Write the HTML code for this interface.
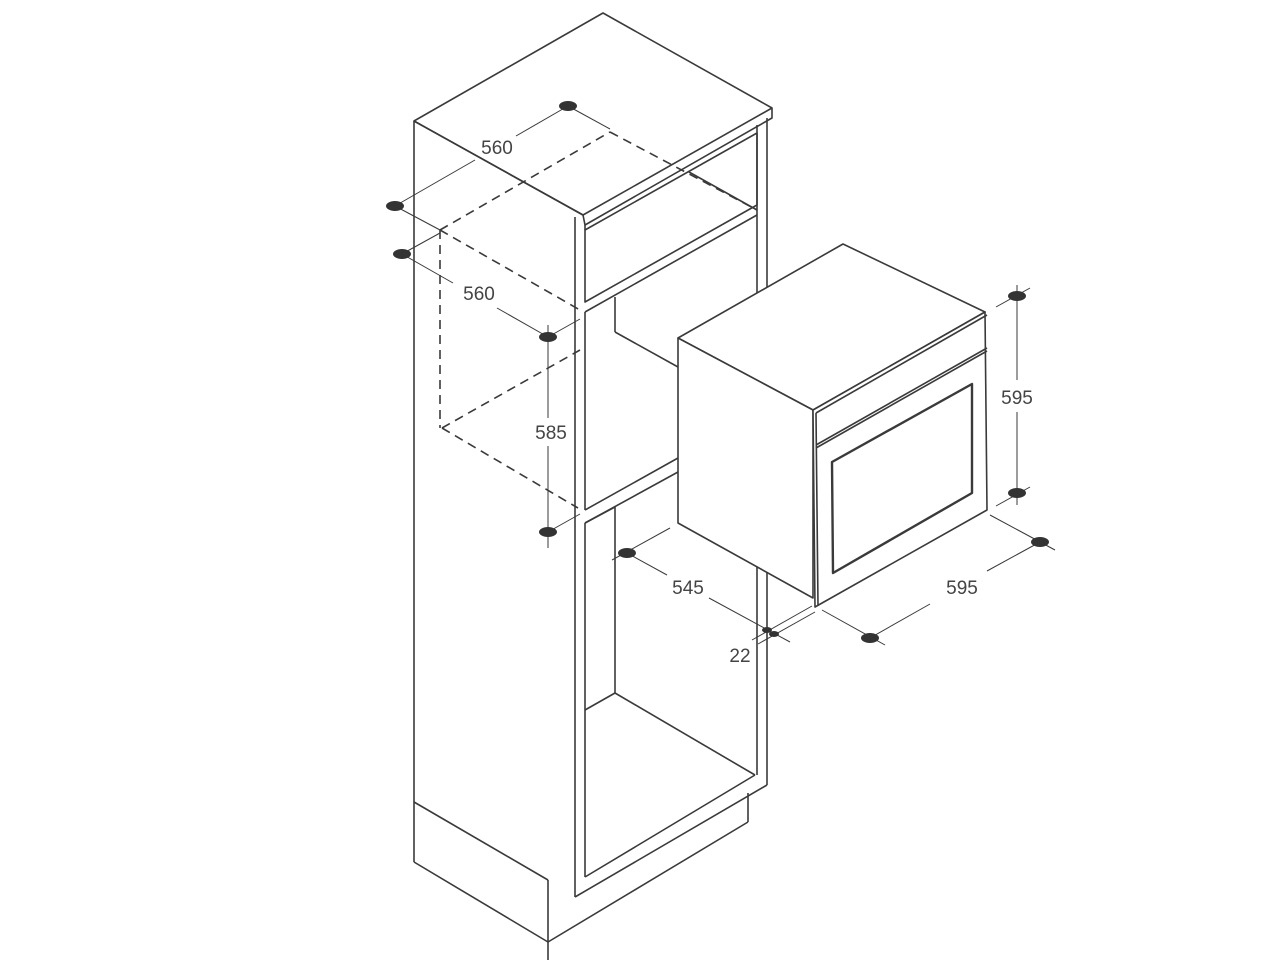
<!DOCTYPE html>
<html><head><meta charset="utf-8"><style>
html,body{margin:0;padding:0;background:#fff;}
svg{display:block}
text{font-family:"Liberation Sans",sans-serif;font-size:19px;fill:#444;text-anchor:middle;}
</style></head><body>
<svg width="1280" height="960" viewBox="0 0 1280 960" xmlns="http://www.w3.org/2000/svg">
<g fill="none" stroke="#3a3a3a" stroke-width="1.6" stroke-linejoin="round">
<!-- top slab -->
<polygon points="414,121 603,13 772,108 772,118 585,225 583,215" fill="#fff"/>
<line x1="414" y1="121" x2="583" y2="215"/>
<line x1="583" y1="215" x2="772" y2="108"/>
<!-- cabinet left side -->
<line x1="414" y1="121" x2="414" y2="862"/>
<line x1="414" y1="802" x2="548" y2="880"/>
<line x1="414" y1="862" x2="548" y2="942"/>
<line x1="548" y1="880" x2="548" y2="960"/>
<line x1="548" y1="942" x2="748" y2="822"/>
<line x1="748" y1="793" x2="748" y2="822"/>
<!-- front frame -->
<line x1="575" y1="217" x2="575" y2="897"/>
<line x1="575" y1="897" x2="767" y2="785"/>
<line x1="767" y1="118" x2="767" y2="785"/>
<line x1="757" y1="125" x2="757" y2="775"/>
<!-- top niche -->
<line x1="585" y1="225" x2="585" y2="230"/>
<line x1="689" y1="172" x2="757" y2="210"/>
<!-- drawer -->
<polygon points="585,230 757,133 757,205 585,302"/>
<!-- middle frame -->
<line x1="585" y1="312" x2="757" y2="215"/>
<line x1="585" y1="312" x2="585" y2="510"/>
<line x1="615" y1="297" x2="615" y2="332"/>
<line x1="615" y1="332" x2="678" y2="367"/>
<line x1="585" y1="510" x2="678" y2="458"/>
<line x1="585" y1="523" x2="678" y2="472"/>
<!-- lower opening -->
<line x1="585" y1="523" x2="585" y2="877"/>
<line x1="585" y1="523" x2="615" y2="507"/>
<line x1="615" y1="507" x2="615" y2="693"/>
<line x1="615" y1="693" x2="585" y2="710"/>
<line x1="615" y1="693" x2="755" y2="775"/>
<line x1="585" y1="877" x2="755" y2="775"/>
<!-- oven -->
<polygon points="678,338 843,244 985,312 813,410" fill="#fff"/>
<polygon points="678,338 813,410 813,598 678,523" fill="#fff"/>
<polygon points="813,410 985,312 987,510 815,607" fill="#fff"/>
<line x1="816" y1="413" x2="987" y2="315"/>
<line x1="816" y1="413" x2="818" y2="606"/>
<line x1="816" y1="445" x2="987" y2="348"/>
<line x1="816" y1="448" x2="987" y2="351"/>
<polygon points="832,462 972,384 972,493 833,573" stroke-width="2.4"/>
</g>
<!-- dashed -->
<g fill="none" stroke="#3a3a3a" stroke-width="1.6" stroke-dasharray="9,6">
<line x1="440" y1="230" x2="610" y2="132"/>
<line x1="610" y1="132" x2="757" y2="210"/>
<line x1="440" y1="230" x2="580" y2="310"/>
<line x1="440" y1="230" x2="440" y2="428"/>
<line x1="442" y1="428" x2="580" y2="350"/>
<line x1="442" y1="428" x2="578" y2="508"/>
</g>
<!-- dimension lines -->
<g fill="none" stroke="#3a3a3a" stroke-width="1">
<line x1="395" y1="206" x2="475" y2="160"/><line x1="516" y1="136" x2="568" y2="106"/>
<line x1="568" y1="106" x2="610" y2="129"/><line x1="395" y1="206" x2="440" y2="230"/>
<line x1="402" y1="254" x2="453" y2="283"/><line x1="497" y1="308" x2="548" y2="337"/>
<line x1="402" y1="254" x2="440" y2="233"/><line x1="548" y1="337" x2="580" y2="319"/>
<line x1="548" y1="325" x2="548" y2="418"/><line x1="548" y1="446" x2="548" y2="548"/>
<line x1="548" y1="532" x2="580" y2="514"/>
<line x1="1017" y1="285" x2="1017" y2="380"/><line x1="1017" y1="412" x2="1017" y2="505"/>
<line x1="996" y1="307" x2="1030" y2="288"/><line x1="996" y1="506" x2="1030" y2="487"/>
<line x1="990" y1="515" x2="1055" y2="550"/><line x1="822" y1="610" x2="885" y2="645"/>
<line x1="870" y1="638" x2="930" y2="604"/><line x1="987" y1="571" x2="1040" y2="542"/>
<line x1="612" y1="560" x2="670" y2="528"/>
<line x1="627" y1="553" x2="667" y2="575"/><line x1="709" y1="598" x2="790" y2="642"/>
<line x1="752" y1="640" x2="812" y2="606"/><line x1="758" y1="644" x2="815" y2="612"/>
</g>
<g fill="#333">
<ellipse cx="568" cy="106" rx="9" ry="5"/>
<ellipse cx="395" cy="206" rx="9" ry="5"/>
<ellipse cx="402" cy="254" rx="9" ry="5"/>
<ellipse cx="548" cy="337" rx="9" ry="5"/>
<ellipse cx="548" cy="532" rx="9" ry="5"/>
<ellipse cx="1017" cy="296" rx="9" ry="5"/>
<ellipse cx="1017" cy="493" rx="9" ry="5"/>
<ellipse cx="1040" cy="542" rx="9" ry="5"/>
<ellipse cx="870" cy="638" rx="9" ry="5"/>
<ellipse cx="627" cy="553" rx="9" ry="5"/>
<ellipse cx="767" cy="630" rx="5" ry="3"/>
<ellipse cx="774" cy="634" rx="5" ry="3"/>
</g>
<text x="497" y="154">560</text>
<text x="479" y="300">560</text>
<text x="551" y="439">585</text>
<text x="1017" y="404">595</text>
<text x="962" y="594">595</text>
<text x="688" y="594">545</text>
<text x="740" y="662">22</text>
</svg>
</body></html>
